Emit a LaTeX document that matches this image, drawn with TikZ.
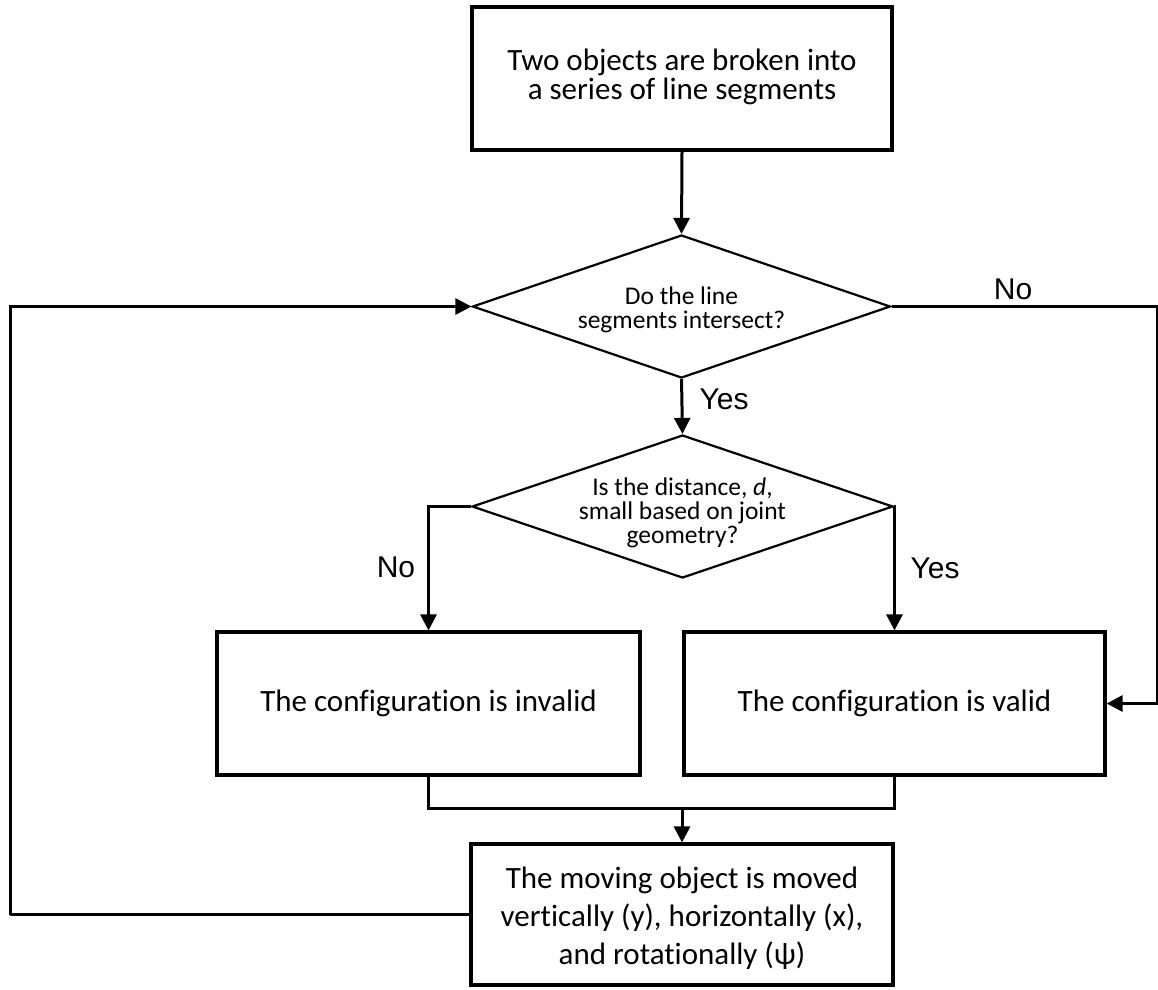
\documentclass[tikz,border=0pt]{standalone}
\usepackage{fontspec}
\setmainfont[Ligatures=NoCommon]{Carlito}
\newfontfamily\labelfont{Liberation Sans}
\usetikzlibrary{shapes.geometric,arrows.meta}

\begin{document}
\begin{tikzpicture}[x=1pt,y=-1pt,
  box/.style={draw, line width=3.2pt, rectangle, inner sep=0pt, align=center,
    font=\fontsize{31}{38}\selectfont},
  dia/.style={draw, line width=2.2pt, shape=diamond, inner sep=0pt},
  diatext/.style={align=center, inner sep=0pt, font=\fontsize{25.5}{24}\selectfont},
  flow/.style={line width=3pt, -{Triangle[length=16pt,width=16pt]}},
  link/.style={line width=3pt},
  tag/.style={font=\labelfont\fontsize{30}{30}\selectfont, inner sep=0pt}
]
\useasboundingbox (0,0) rectangle (1158,989);

% process boxes
\node[box, minimum width=420pt, minimum height=143pt] (start) at (682,78.5) {};
\node[align=center, inner sep=0pt, font=\fontsize{31}{29}\selectfont] (starttext) at (682,77)
  {Two objects are broken into\\a series of line segments};
\node[box, minimum width=423pt, minimum height=143pt] (invalid) at (428.5,703.5)
  {The configuration is invalid};
\node[box, minimum width=421pt, minimum height=143pt] (valid) at (894.5,703.5)
  {The configuration is valid};
\node[box, minimum width=422pt, minimum height=141pt] (move) at (682,914.5) {};
\node[align=center, inner sep=0pt, font=\fontsize{31}{38}\selectfont] (movetext) at (682,918)
  {The moving object is moved\\vertically (y), horizontally (x),\\and rotationally (ψ)};

% decisions
\node[dia, minimum width=418pt, minimum height=143pt] (cross) at (681.5,306.5) {};
\node[diatext] (crosstext) at (681.5,310) {Do the line\\segments intersect?};
\node[dia, minimum width=421pt, minimum height=143pt] (near) at (682.5,506.5) {};
\node[diatext] (neartext) at (682.5,513) {Is the distance, \textit{d},\\small based on joint\\geometry?};

% helper points
\coordinate (edge) at (1157.5,306.5);
\coordinate (back) at (10,915);
\coordinate (merge) at (682,808.5);

% connectors
\draw[flow] (start.south) -- (cross.north);
\draw[flow] (cross.south) -- (near.north);
\draw[flow] (cross.east) -- (edge) |- (valid.east);
\draw[flow] (near.west) -| (invalid.north);
\draw[flow] (near.east) -| (valid.north);
\draw[link] (invalid.south) |- (merge) -| (valid.south);
\draw[flow] (merge) -- (move.north);
\draw[flow] (move.west) -| (back) |- (cross.west);

% branch labels
\node[tag] (yes1) at (724,399) {Yes};
\node[tag] (no1) at (1013,289) {No};
\node[tag] (no2) at (396,567) {No};
\node[tag] (yes2) at (935,568) {Yes};
\end{tikzpicture}
\end{document}
